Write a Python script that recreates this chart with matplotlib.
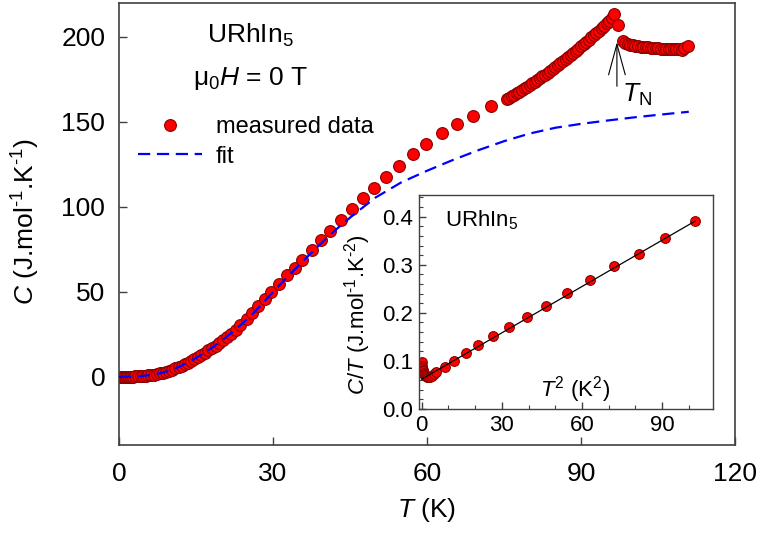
import matplotlib
matplotlib.use("Agg")
import matplotlib.pyplot as plt
from matplotlib.lines import Line2D

plt.rcParams["font.family"] = ["Liberation Sans", "DejaVu Sans"]
plt.rcParams["mathtext.fontset"] = "custom"
plt.rcParams["mathtext.rm"] = "Liberation Sans"
plt.rcParams["mathtext.it"] = "Liberation Sans:italic"
plt.rcParams["mathtext.bf"] = "Liberation Sans:bold"

# specific heat C(T), J/mol/K
T_meas = [0.4, 0.6, 0.8, 1.0, 1.3, 1.6, 2.0, 2.4, 2.8, 3.2, 3.7, 4.2, 4.7, 5.2, 5.7,
          6.2, 6.8, 7.4, 8.0, 8.6, 9.2, 9.8, 10.4, 11.0, 11.6, 12.2, 12.8, 13.4, 14.0,
          14.6, 15.3, 16.0, 16.7, 17.4, 18.1, 18.8, 19.5, 20.3, 21.1, 21.9, 22.7, 23.6,
          24.9, 26.0, 27.1, 28.4, 29.7, 31.2, 32.8, 34.3, 35.6, 37.5, 39.3, 41.1, 43.2,
          45.3, 47.6, 49.7, 52.0, 54.5, 57.3, 59.8, 62.9, 65.9, 69.0, 72.4,
          75.5, 76.0, 76.5, 77.0, 77.5, 78.0, 78.5, 79.0, 79.5, 80.0, 80.5, 81.0, 81.5,
          82.0, 82.5, 83.0, 83.5, 84.0, 84.5, 85.0, 85.5, 86.0, 86.5, 87.0, 87.5, 88.0,
          88.5, 89.0, 89.5, 90.0, 90.5, 91.0, 91.5, 92.0, 92.5, 93.0, 93.5, 94.0, 94.5,
          95.0, 95.5, 96.0, 96.5, 97.3,
          98.1, 98.6, 99.1, 99.6, 100.1, 100.6, 101.1, 101.6, 102.1, 102.6, 103.1, 103.6,
          104.1, 104.6, 105.1, 105.6, 106.1, 106.6, 107.1, 107.6, 108.1, 108.6, 109.1,
          109.6, 110.1, 110.8]
C_meas = [0.04, 0.05, 0.06, 0.07, 0.09, 0.12, 0.15, 0.19, 0.24, 0.30, 0.38, 0.48, 0.60,
          0.73, 0.90, 1.10, 1.38, 1.70, 2.10, 2.55, 3.05, 3.65, 4.30, 5.0, 5.8, 6.6, 7.5,
          8.4, 9.4, 10.4, 11.6, 12.9, 14.2, 15.6, 17.0, 18.5, 20.0, 21.8, 23.6, 25.5,
          27.4, 30.6, 34.3, 37.9, 41.5, 45.8, 50.0, 54.7, 59.7, 64.4, 68.6, 74.6, 80.4,
          86.0, 92.4, 98.6, 105.2, 111.2, 117.8, 124.4, 131.2, 137.2, 143.4, 148.8,
          153.8, 159.2,
          163.5, 164.4, 165.2, 166.1, 167.0, 167.9, 168.9, 169.8, 170.8, 171.8, 172.8,
          173.8, 174.8, 175.8, 176.9, 177.9, 179.0, 180.1, 181.2, 182.4, 183.5, 184.7,
          185.8, 187.0, 188.2, 189.4, 190.7, 191.9, 193.2, 194.5, 195.8, 197.1, 198.4,
          199.7, 201.1, 202.4, 203.8, 205.2, 206.6, 208.1, 209.6, 211.4, 213.8, 207.0,
          197.8, 196.6, 195.8, 195.3, 195.0, 194.8, 194.6, 194.4, 194.3, 194.2, 194.0,
          193.8, 193.6, 193.5, 193.3, 193.2, 193.1, 193.0, 192.9, 192.8, 192.8, 192.9,
          193.0, 192.5, 193.6, 194.6]

# fitted lattice + electronic contribution
T_fit = [0, 2, 4, 6, 8, 10, 12, 14, 16, 18, 20, 22, 24, 26, 28, 30, 32, 34, 36, 38, 40,
         42, 44, 46, 48, 50, 55, 60, 65, 70, 75, 80, 85, 90, 95, 100, 105, 111]
C_fit = [0.0, 0.12, 0.45, 1.1, 2.2, 3.9, 6.4, 9.5, 13.0, 17.0, 21.4, 26.2, 31.4, 37.0,
         43.4, 50.0, 56.3, 62.5, 68.6, 74.6, 80.4, 86.0, 91.2, 96.2, 100.9, 105.6,
         114.5, 121.3, 127.6, 133.4, 138.7, 143.2, 146.6, 148.9, 150.8, 152.6, 154.2,
         156.0]

# low temperature C/T versus T^2
T2_low = [0.1, 0.2, 0.3, 0.45, 0.6, 0.8, 1.0, 1.3, 1.6, 2.0, 2.5, 3.1, 3.8, 4.6, 5.5,
          8.6, 12.0, 16.5, 21.1, 26.5, 32.8, 39.5, 46.5, 54.3, 62.8, 72.0, 81.5, 91.1,
          102.4]
CT_low = [0.098, 0.090, 0.085, 0.081, 0.078, 0.075, 0.073, 0.070, 0.068, 0.067, 0.066,
          0.067, 0.069, 0.072, 0.076, 0.087, 0.099, 0.116, 0.133, 0.152, 0.170, 0.191,
          0.215, 0.241, 0.269, 0.297, 0.323, 0.356, 0.390]
T2_line = [0.0, 102.4]
CT_line = [0.062, 0.391]

red = "#ff0000"
dark_red = "#8b0000"
spine_col = "#404040"

fig = plt.figure(figsize=(7.61, 5.34), dpi=100)
ax = fig.add_axes([0.1564, 0.1667, 0.8094, 0.8277])

ax.plot(T_meas, C_meas, "o", ms=8.5, mfc=red, mec=dark_red, mew=0.8, zorder=2)
ax.plot(T_fit, C_fit, color="#0000ff", lw=1.6, dashes=(5.5, 3), zorder=3)

ax.set_xlim(0, 120)
ax.set_ylim(-40, 220)
ax.set_xticks([0, 30, 60, 90, 120])
ax.set_yticks([0, 50, 100, 150, 200])
ax.tick_params(direction="in", length=6, width=1, labelsize=19, color=spine_col)
ax.tick_params(axis="x", pad=12)
ax.tick_params(axis="y", pad=10)
for sp in ax.spines.values():
    sp.set_color(spine_col)
    sp.set_linewidth(1.2)

ax.set_xlabel(r"$T$ (K)", fontsize=19)
ax.set_ylabel(r"$C$ (J.mol$^{\text{-}1}$.K$^{\text{-}1}$)", fontsize=19)
ax.xaxis.set_label_coords(0.5, -0.115)
ax.yaxis.set_label_coords(-0.125, 0.505)

ax.text(17.1, 196.5, r"URhIn$_5$", fontsize=19, va="baseline")
ax.text(14.4, 171.8, "μ$_0$$H$ = 0 T", fontsize=19, va="baseline")

# Neel temperature marker
ax.annotate("", xy=(97.0, 197), xytext=(97.0, 171),
            arrowprops=dict(arrowstyle="->,head_length=1.1,head_width=0.3",
                            mutation_scale=20, lw=0.8, color="black",
                            shrinkA=0, shrinkB=0))
ax.text(98.0, 162, r"$T_{\mathrm{N}}$", fontsize=19, va="baseline")

handles = [Line2D([], [], ls="none", marker="o", ms=8.5, mfc=red, mec=dark_red, mew=0.8),
           Line2D([], [], color="#0000ff", lw=1.6, dashes=(5.5, 3))]
ax.legend(handles, ["measured data", "fit"], loc="center left",
          bbox_to_anchor=(0.031, 0.6855), frameon=False, fontsize=17,
          handlelength=2.7, handletextpad=0.6, labelspacing=0.3,
          borderpad=0, borderaxespad=0)

# inset
ins = fig.add_axes([0.5506, 0.2341, 0.3863, 0.4007])
ins.plot(T2_low, CT_low, "o", ms=7, mfc=red, mec=dark_red, mew=0.8, zorder=2)
ins.plot(T2_line, CT_line, color="black", lw=0.9, zorder=3)
ins.set_xlim(-1, 109)
ins.set_ylim(0, 0.445)
ins.set_xticks([0, 30, 60, 90])
ins.set_xticks(range(0, 110, 10), minor=True)
ins.set_yticks([0.0, 0.1, 0.2, 0.3, 0.4])
ins.set_yticks([i * 0.02 for i in range(23)], minor=True)
ins.set_yticklabels(["0.0", "0.1", "0.2", "0.3", "0.4"])
ins.tick_params(direction="in", length=5, width=1, labelsize=16, color=spine_col, pad=4)
ins.tick_params(which="minor", direction="in", length=3, width=0.8, color=spine_col)
for sp in ins.spines.values():
    sp.set_color(spine_col)
    sp.set_linewidth(1.0)
ins.set_ylabel(r"$C/T$ (J.mol$^{\text{-}1}$.K$^{\text{-}2}$)", fontsize=16)
ins.yaxis.set_label_coords(-0.155, 0.44)
ins.text(8.6, 0.38, r"URhIn$_5$", fontsize=16, va="baseline")
ins.text(44.3, 0.0257, r"$T^2$ (K$^2$)", fontsize=16, va="baseline")

fig.savefig("out.png", dpi=100)
